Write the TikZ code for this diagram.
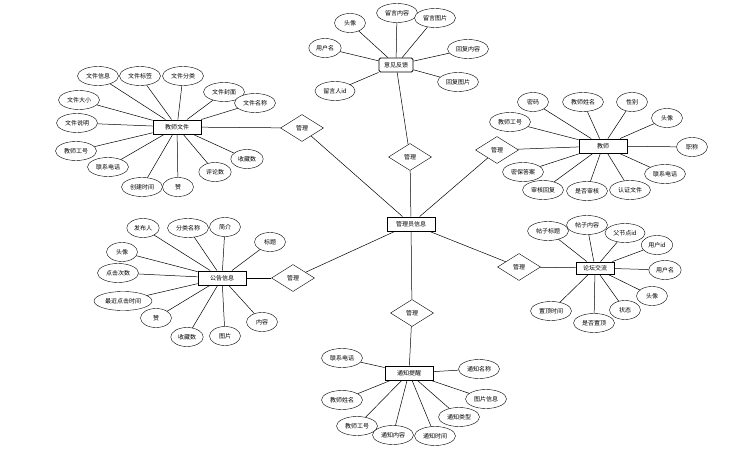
\documentclass[tikz,border=0pt]{standalone}
\usepackage{fontspec}
\newfontfamily\cjk{Noto Sans CJK SC}
\usetikzlibrary{shapes.geometric}
\tikzset{
  ent/.style={draw, line width=0.9pt, rectangle, minimum width=48pt, minimum height=14pt, inner sep=1pt, fill=white},
  attr/.style={draw, ellipse, minimum width=31pt, minimum height=19pt, inner xsep=2.5pt, inner ysep=0pt, fill=white},
  rel/.style={draw, diamond, minimum width=43pt, minimum height=27pt, inner sep=0pt, aspect=1.6, fill=white},
  lk/.style={draw, line width=0.5pt}
}
\begin{document}
\begin{tikzpicture}[x=1pt,y=-1pt, font=\cjk\fontsize{6}{7}\selectfont]
\useasboundingbox (0,0) rectangle (746,457);
% entities
\node[ent] (adm) at (411,224) {管理员信息};
\node[ent, rounded corners=1.5pt, minimum width=34pt] (fb) at (396,65) {意见反馈};
\node[ent] (tf) at (177,127) {教师文件};
\node[ent] (te) at (603,146) {教师};
\node[ent] (gg) at (222,278) {公告信息};
\node[ent, minimum width=38pt, minimum height=12pt] (lt) at (595,268) {论坛交流};
\node[ent] (tz) at (409,373) {通知提醒};
% relations
\node[rel] (r1) at (410,157) {管理};
\node[rel] (r2) at (302,128) {管理};
\node[rel] (r3) at (497,150) {管理};
\node[rel] (r4) at (293,278) {管理};
\node[rel] (r5) at (519,267) {管理};
\node[rel] (r6) at (412,313) {管理};
\foreach \r/\e in {r1/fb,r2/tf,r3/te,r4/gg,r5/lt,r6/tz}{
  \draw[lk] (adm) -- (\r);
  \draw[lk] (\r) -- (\e);
}
% 意见反馈 attributes
\node[attr] (fb1) at (350,23) {头像};
\node[attr] (fb2) at (397,13) {留言内容};
\node[attr] (fb3) at (435,18) {留言图片};
\node[attr] (fb4) at (325,48) {用户名};
\node[attr] (fb5) at (468,49) {回复内容};
\node[attr] (fb6) at (458,82) {回复图片};
\node[attr] (fb7) at (335,91) {留言人id};
\foreach \a in {fb1,fb2,fb3,fb4,fb5,fb6,fb7} \draw[lk] (fb) -- (\a);
% 教师文件 attributes
\node[attr] (tf1) at (98,76) {文件信息};
\node[attr] (tf2) at (140,76) {文件标签};
\node[attr] (tf3) at (183,76) {文件分类};
\node[attr] (tf4) at (224,92) {文件封面};
\node[attr] (tf5) at (255,103) {文件名称};
\node[attr] (tf6) at (79,100) {文件大小};
\node[attr] (tf7) at (77,123) {文件说明};
\node[attr] (tf8) at (76,151) {教师工号};
\node[attr] (tf9) at (108,167) {联系电话};
\node[attr] (tf10) at (142,187) {创建时间};
\node[attr] (tf11) at (178,187) {赞};
\node[attr] (tf12) at (215,172) {评论数};
\node[attr] (tf13) at (247,159) {收藏数};
\foreach \a in {tf1,tf2,tf3,tf4,tf5,tf6,tf7,tf8,tf9,tf10,tf11,tf12,tf13} \draw[lk] (tf) -- (\a);
% 教师 attributes
\node[attr] (te1) at (533,102) {密码};
\node[attr] (te2) at (583,102) {教师姓名};
\node[attr] (te3) at (632,102) {性别};
\node[attr] (te4) at (667,118) {头像};
\node[attr] (te5) at (692,147) {职称};
\node[attr] (te6) at (665,174) {联系电话};
\node[attr] (te7) at (630,190) {认证文件};
\node[attr] (te8) at (587,191) {是否审核};
\node[attr] (te9) at (543,190) {审核回复};
\node[attr] (te10) at (523,172) {密保答案};
\node[attr] (te11) at (510,122) {教师工号};
\foreach \a in {te1,te2,te3,te4,te5,te6,te7,te8,te9,te10,te11} \draw[lk] (te) -- (\a);
% 公告信息 attributes
\node[attr] (gg1) at (143,228) {发布人};
\node[attr] (gg2) at (188,228) {分类名称};
\node[attr] (gg3) at (225,227) {简介};
\node[attr] (gg4) at (270,242) {标题};
\node[attr] (gg5) at (122,252) {头像};
\node[attr] (gg6) at (118,273) {点击次数};
\node[attr] (gg7) at (123,301) {最近点击时间};
\node[attr] (gg8) at (156,318) {赞};
\node[attr] (gg9) at (187,337) {收藏数};
\node[attr] (gg10) at (225,336) {图片};
\node[attr] (gg11) at (262,322) {内容};
\foreach \a in {gg1,gg2,gg3,gg4,gg5,gg6,gg7,gg8,gg9,gg10,gg11} \draw[lk] (gg) -- (\a);
% 论坛交流 attributes
\node[attr] (lt1) at (548,231) {帖子标题};
\node[attr] (lt2) at (587,225) {帖子内容};
\node[attr] (lt3) at (625,233) {父节点id};
\node[attr] (lt4) at (657,245) {用户id};
\node[attr] (lt5) at (665,270) {用户名};
\node[attr] (lt6) at (652,296) {头像};
\node[attr] (lt7) at (625,310) {状态};
\node[attr] (lt8) at (594,323) {是否置顶};
\node[attr] (lt9) at (551,311) {置顶时间};
\foreach \a in {lt1,lt2,lt3,lt4,lt5,lt6,lt7,lt8,lt9} \draw[lk] (lt) -- (\a);
% 通知提醒 attributes
\node[attr] (tz1) at (342,358) {联系电话};
\node[attr] (tz2) at (342,400) {教师姓名};
\node[attr] (tz3) at (357,426) {教师工号};
\node[attr] (tz4) at (393,435) {通知内容};
\node[attr] (tz5) at (435,436) {通知时间};
\node[attr] (tz6) at (459,417) {通知类型};
\node[attr] (tz7) at (486,399) {图片信息};
\node[attr] (tz8) at (479,369) {通知名称};
\foreach \a in {tz1,tz2,tz3,tz4,tz5,tz6,tz7,tz8} \draw[lk] (tz) -- (\a);
\end{tikzpicture}
\end{document}
